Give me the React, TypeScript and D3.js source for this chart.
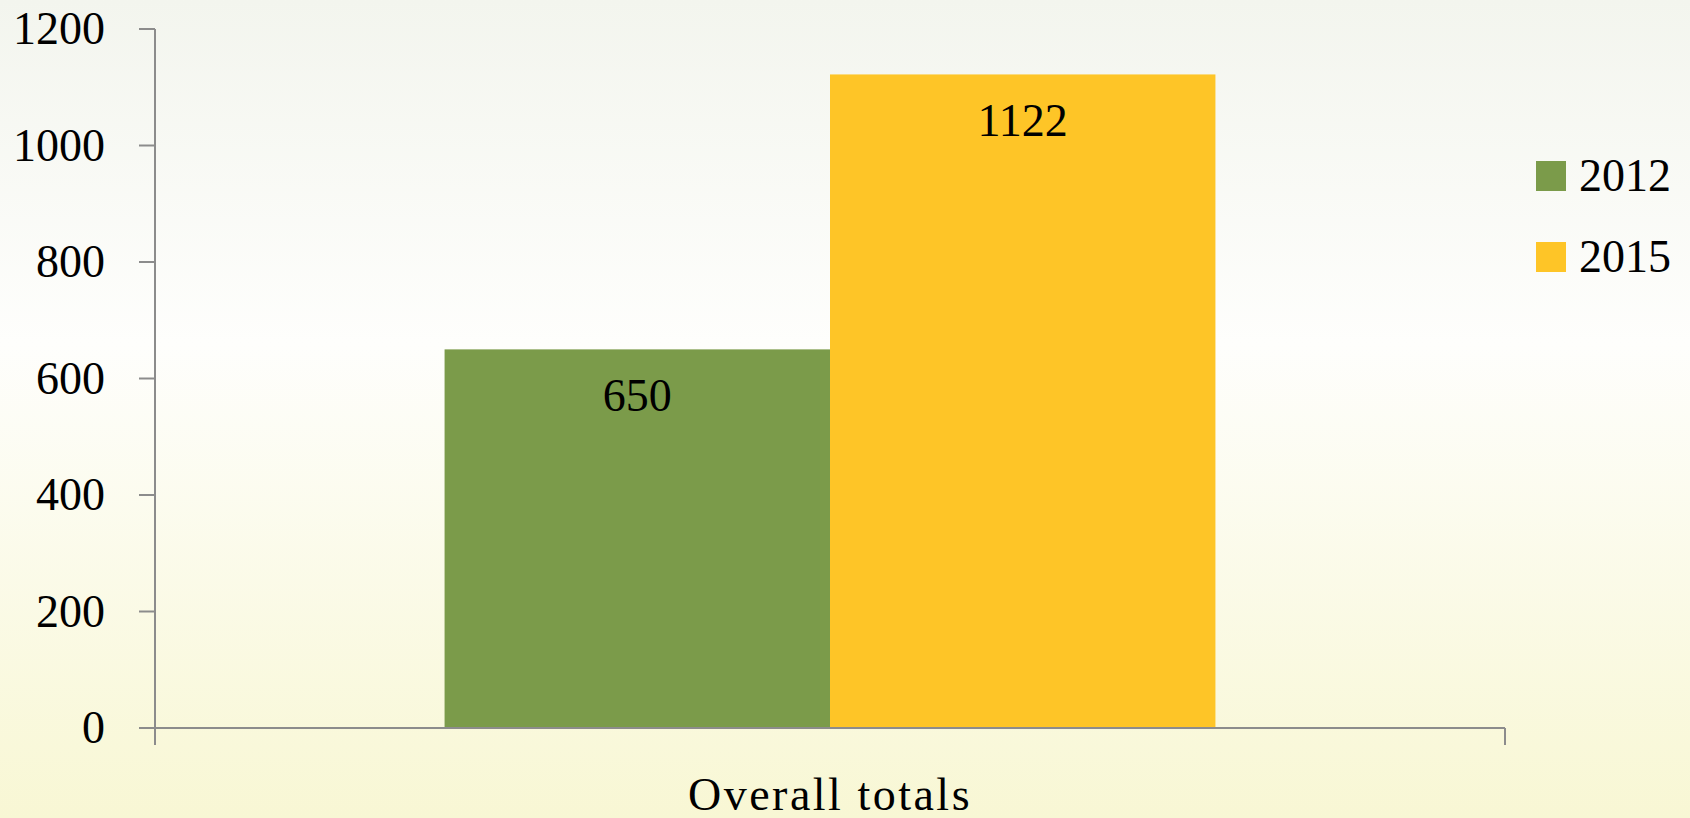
import React from "react";
import * as d3 from "d3";

const categories = ["Overall totals"];
const seriesNames = ["2012", "2015"];
const values2012 = [650];
const values2015 = [1122];
const yTicks = [0, 200, 400, 600, 800, 1000, 1200];
const colors = ["#7b9b4a", "#fec527"];

const W = 1690;
const H = 818;
const plotLeft = 155;
const plotRight = 1505;
const plotTop = 29;
const plotBottom = 728;
const FONT = "'Liberation Serif', 'Times New Roman', serif";

export default function App() {
  const y = d3.scaleLinear().domain([0, 1200]).range([plotBottom, plotTop]);
  const x = d3.scaleBand().domain(categories).range([plotLeft, plotRight]).paddingInner(0).paddingOuter(0);
  const groupWidth = x.bandwidth() * 0.571;
  const inner = d3.scaleBand().domain(seriesNames).range([0, groupWidth]);
  const series = [values2012, values2015];

  return (
    <svg width={W} height={H} style={{ position: "absolute", left: 0, top: 0, display: "block" }}>
      <defs>
        <linearGradient id="bg" x1="0" y1="0" x2="0" y2="1">
          <stop offset="0" stopColor="#f3f5ee" />
          <stop offset="0.42" stopColor="#fefefc" />
          <stop offset="1" stopColor="#f8f7d4" />
        </linearGradient>
      </defs>
      <rect x={0} y={0} width={W} height={H} fill="url(#bg)" />

      {categories.map((c, ci) => {
        const gx = (x(c) as number) + (x.bandwidth() - groupWidth) / 2;
        return (
          <g key={c}>
            {seriesNames.map((s, si) => {
              const v = series[si][ci];
              const bx = gx + (inner(s) as number);
              return (
                <g key={s}>
                  <rect x={bx} y={y(v)} width={inner.bandwidth()} height={plotBottom - y(v)} fill={colors[si]} />
                  <text
                    x={bx + inner.bandwidth() / 2}
                    y={y(v) + 62}
                    textAnchor="middle"
                    fontFamily={FONT}
                    fontSize={46}
                    fill="#000"
                  >
                    {v}
                  </text>
                </g>
              );
            })}
            <text
              x={(x(c) as number) + x.bandwidth() / 2}
              y={810}
              textAnchor="middle"
              fontFamily={FONT}
              fontSize={46}
              letterSpacing={2.5}
              fill="#000"
            >
              {c}
            </text>
          </g>
        );
      })}

      {/* y axis */}
      <line x1={plotLeft} x2={plotLeft} y1={plotTop} y2={745} stroke="#8c8c8c" strokeWidth={2} />
      {yTicks.map((t) => (
        <g key={t}>
          <line x1={139} x2={plotLeft} y1={y(t)} y2={y(t)} stroke="#8c8c8c" strokeWidth={2} />
          <text x={105} y={y(t)} dy="0.33em" textAnchor="end" fontFamily={FONT} fontSize={46} fill="#000">
            {t}
          </text>
        </g>
      ))}
      {/* x axis */}
      <line x1={139} x2={plotRight} y1={plotBottom} y2={plotBottom} stroke="#8c8c8c" strokeWidth={2} />
      <line x1={plotRight} x2={plotRight} y1={plotBottom} y2={745} stroke="#8c8c8c" strokeWidth={2} />

      {/* legend */}
      {seriesNames.map((s, i) => (
        <g key={s} transform={`translate(1536, ${161 + i * 81})`}>
          <rect x={0} y={0} width={30} height={30} fill={colors[i]} />
          <text x={43} y={30} fontFamily={FONT} fontSize={46} fill="#000">
            {s}
          </text>
        </g>
      ))}
    </svg>
  );
}
